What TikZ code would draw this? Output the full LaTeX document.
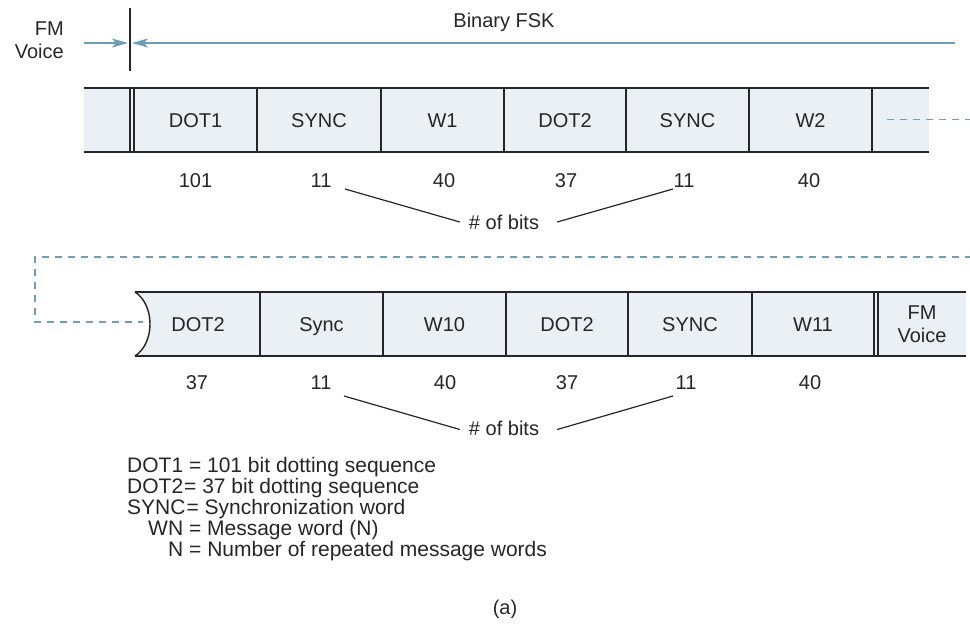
\documentclass[tikz,border=0pt]{standalone}
\usepackage{fontspec}
\setmainfont{Liberation Sans}
\usetikzlibrary{arrows.meta}
\definecolor{cellfill}{HTML}{EAF0F3}
\definecolor{steel}{HTML}{6F9DB5}
\definecolor{ink}{HTML}{262626}
\begin{document}
\begin{tikzpicture}[x=1pt,y=-1pt,
  lbl/.style={font=\fontsize{20}{24}\selectfont, text=ink, inner sep=0pt, text height=14.3pt, text depth=0pt},
  mlbl/.style={font=\fontsize{20}{23.5}\selectfont, text=ink, inner sep=0pt},
  lgd/.style={font=\fontsize{21}{25}\selectfont, text=ink, inner sep=0pt, anchor=base west},
  bord/.style={draw=ink, line width=1.4pt},
  divi/.style={draw=ink, line width=1.2pt},
  thin/.style={draw=ink, line width=1.2pt},
  bluel/.style={draw=steel, line width=1.4pt},
  bdash/.style={draw=steel, line width=1.3pt, dash pattern=on 7pt off 6pt},
  tip/.style={-{Stealth[length=16pt,width=9pt,inset=4pt,fill=steel]}}
]
\useasboundingbox (0,0) rectangle (970,626);

% ---------- top header ----------
\node[mlbl, align=right, anchor=east] (fmv) at (64,40) {FM\\Voice};
\node[lbl] (bfsk) at (504,20) {Binary FSK};
\coordinate (vt) at (130,8);
\coordinate (vb) at (130,71);
\draw[thin] (vt) -- (vb);
\coordinate (la) at (84,43);
\coordinate (lb) at (128,43);
\coordinate (ra) at (955,43);
\coordinate (rb) at (132,43);
\draw[bluel,tip] (la) -- (lb);
\draw[bluel,tip] (ra) -- (rb);

% ---------- top row ----------
\fill[cellfill] (84,88) rectangle (929,152);
\draw[bord] (84,88) -- (929,88);
\draw[bord] (84,152) -- (929,152);
\foreach \x in {130,134,257,381,504,626,749,872}
  \draw[divi] (\x,88) -- (\x,152);

\node[lbl] (t1) at (195.5,120) {DOT1};
\node[lbl] (t2) at (319,120) {SYNC};
\node[lbl] (t3) at (442.5,120) {W1};
\node[lbl] (t4) at (565,120) {DOT2};
\node[lbl] (t5) at (687.5,120) {SYNC};
\node[lbl] (t6) at (810.5,120) {W2};

\node[lbl] (tn1) at (195.5,180) {101};
\node[lbl] (tn2) at (321,180) {11};
\node[lbl] (tn3) at (444,180) {40};
\node[lbl] (tn4) at (566,180) {37};
\node[lbl] (tn5) at (684,180) {11};
\node[lbl] (tn6) at (809,180) {40};

\coordinate (d1) at (887,119.5);
\coordinate (d2) at (972,119.5);
\draw[bdash] (d1) -- (d2);

\node[lbl] (bits1) at (504,222) {\# of bits};
\coordinate (c1) at (345,189);
\coordinate (c2) at (673,189);
\draw[thin] (c1) -- ([xshift=-9pt]bits1.west);
\draw[thin] ([xshift=18pt]bits1.east) -- (c2);

% ---------- return dashed loop ----------
\coordinate (e1) at (972,257);
\coordinate (e2) at (35,257);
\coordinate (e3) at (35,322);
\coordinate (e4) at (143,322);
\draw[bdash] (e1) -- (e2) -- (e3) -- (e4);

% ---------- bottom row ----------
\fill[cellfill] (135,292) .. controls (155,305) and (155,343) .. (135,356) -- (966,356) -- (966,292) -- cycle;
\draw[bord] (135,292) -- (966,292);
\draw[bord] (135,356) -- (966,356);
\draw[bord] (135,292) .. controls (155,305) and (155,343) .. (135,356);
\foreach \x in {260,383,506,628,752,874,878}
  \draw[divi] (\x,292) -- (\x,356);

\node[lbl] (b1) at (198,324) {DOT2};
\node[lbl] (b2) at (321.5,324) {Sync};
\node[lbl] (b3) at (444.5,324) {W10};
\node[lbl] (b4) at (567,324) {DOT2};
\node[lbl] (b5) at (690,324) {SYNC};
\node[lbl] (b6) at (813,324) {W11};
\node[mlbl, align=center] (b7) at (922,324) {FM\\Voice};

\node[lbl] (bn1) at (197,382) {37};
\node[lbl] (bn2) at (321,382) {11};
\node[lbl] (bn3) at (445,382) {40};
\node[lbl] (bn4) at (567,382) {37};
\node[lbl] (bn5) at (686,382) {11};
\node[lbl] (bn6) at (810,382) {40};

\node[lbl] (bits2) at (504,428) {\# of bits};
\coordinate (c3) at (344,396);
\coordinate (c4) at (673,396);
\draw[thin] (c3) -- ([xshift=-9pt,yshift=-1.5pt]bits2.west);
\draw[thin] ([xshift=18pt,yshift=-1.5pt]bits2.east) -- (c4);

% ---------- legend ----------
\node[lgd] (g1) at (127,472.5) {DOT1 = 101 bit dotting sequence};
\node[lgd] (g2) at (127,493.5) {DOT2\kern1pt= 37 bit dotting sequence};
\node[lgd] (g3) at (127,514.5) {SYNC\kern1pt= Synchronization word};
\node[lgd] (g4) at (148,535.5) {WN = Message word (N)};
\node[lgd] (g5) at (168,556.5) {N = Number of repeated message words};

\node[lbl] (cap) at (505,607) {(a)};
\end{tikzpicture}
\end{document}
